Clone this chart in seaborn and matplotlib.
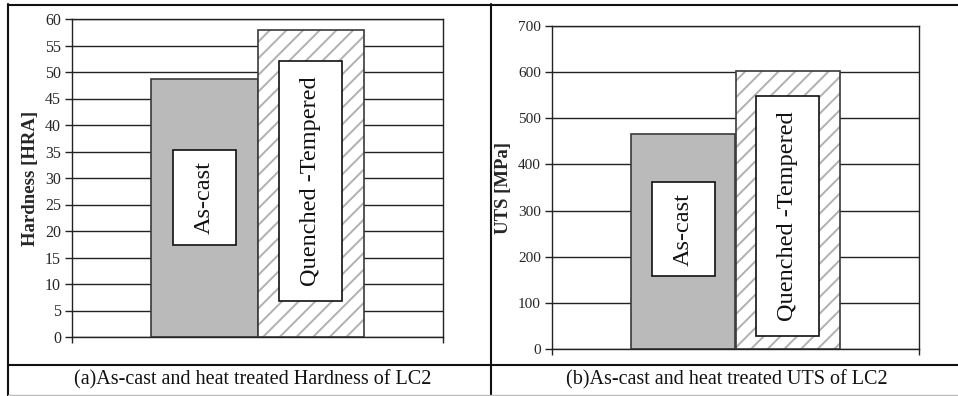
import matplotlib
matplotlib.use("Agg")
import matplotlib.pyplot as plt
from matplotlib.patches import Rectangle
from matplotlib.lines import Line2D
import pandas as pd
import seaborn as sns

# Data
conditions = ["As-cast", "Quenched -Tempered"]
hardness_hra = [48.7, 58.0]
uts_mpa = [466, 603]

hardness_ticks = list(range(0, 61, 5))
uts_ticks = list(range(0, 701, 100))

# Vertical extents of the rotated label boxes (in data units)
hardness_label_boxes = [(17.4, 35.3), (6.8, 52.1)]
uts_label_boxes = [(158, 362), (28, 548)]

sns.set_theme(style="white")
plt.rcParams["font.family"] = ["Liberation Serif", "DejaVu Serif"]
plt.rcParams["hatch.linewidth"] = 1.4

SOLID_GRAY = "#bababa"
HATCH_GRAY = "#b0b0b0"
EDGE = "#3a3a3a"

fig = plt.figure(figsize=(9.58, 3.96), dpi=100)
fig.patch.set_facecolor("white")

ax_a = fig.add_axes([72 / 958, 59 / 396, 371 / 958, 318 / 396])
ax_b = fig.add_axes([552 / 958, 47 / 396, 367 / 958, 323 / 396])


def draw_panel(ax, values, ylabel, ticks, boxes, tick_size):
    df = pd.DataFrame({"condition": conditions, "value": values})
    sns.barplot(data=df, x="condition", y="value", hue="condition",
                palette=[SOLID_GRAY, "white"], width=1.0, legend=False,
                edgecolor=EDGE, linewidth=1.2, ax=ax, zorder=2)

    # Hatched fill for the heat-treated bar, with a separate dark outline
    bars = list(ax.patches)
    hatched = bars[1]
    hatched.set_hatch("//")
    hatched.set_edgecolor(HATCH_GRAY)
    hatched.set_linewidth(0)
    ax.add_patch(Rectangle(hatched.get_xy(), hatched.get_width(),
                           hatched.get_height(), fill=False,
                           edgecolor=EDGE, linewidth=1.2, zorder=3))

    # Rotated condition labels in white boxes
    for bar, name, (lo, hi) in zip(bars, conditions, boxes):
        cx = bar.get_x() + bar.get_width() / 2
        bw = bar.get_width() * 0.6
        ax.add_patch(Rectangle((cx - bw / 2, lo), bw, hi - lo,
                               facecolor="white", edgecolor="#111111",
                               linewidth=1.2, zorder=4))
        ax.text(cx, (lo + hi) / 2, name, rotation=90, ha="center",
                va="center", fontsize=17.5, color="#111111", zorder=5)

    ax.set_xlim(-1.25, 2.25)
    ax.set_ylim(ticks[0], ticks[-1])
    ax.set_yticks(ticks)
    ax.set_yticklabels([str(t) for t in ticks], fontsize=tick_size)
    ax.set_xticks([-1.25, 2.25])
    ax.set_xticklabels([])
    ax.set_xlabel("")
    ax.set_ylabel(ylabel, fontsize=13.5, fontweight="bold", labelpad=4)
    ax.tick_params(axis="y", direction="out", length=5, width=1,
                   color="#222222", pad=3, left=True)
    ax.tick_params(axis="x", direction="out", length=4, width=1,
                   color="#222222", bottom=True)
    ax.grid(axis="y", color="#222222", linewidth=1.0)
    ax.grid(axis="x", visible=False)
    ax.set_axisbelow(True)
    for side in ["left", "bottom", "right", "top"]:
        ax.spines[side].set_visible(True)
        ax.spines[side].set_color("#222222")
        ax.spines[side].set_linewidth(1.0)
    ax.set_facecolor("white")


draw_panel(ax_a, hardness_hra, "Hardness [HRA]", hardness_ticks,
           hardness_label_boxes, 11.5)
draw_panel(ax_b, uts_mpa, "UTS [MPa]", uts_ticks, uts_label_boxes, 11)

# Table frame around the two panels and their captions
W, H = 958, 396


def frame_line(x0, y0, x1, y1, color="#111111", lw=1.5):
    fig.add_artist(Line2D([x0 / W, x1 / W], [1 - y0 / H, 1 - y1 / H],
                          transform=fig.transFigure, color=color,
                          linewidth=lw))


frame_line(8, 4.5, 958, 4.5)
frame_line(8, 4, 8, 396)
frame_line(490.5, 4, 490.5, 396)
frame_line(8, 365, 958, 365)
frame_line(8, 395, 958, 395, color="#bbbbbb", lw=1.0)

fig.text(253 / W, 1 - 380 / H,
         "(a)As-cast and heat treated Hardness of LC2",
         ha="center", va="center", fontsize=14.5, color="#111111")
fig.text(727 / W, 1 - 380 / H,
         "(b)As-cast and heat treated UTS of LC2",
         ha="center", va="center", fontsize=14.5, color="#111111")

fig.savefig("out.png", dpi=100, facecolor="white")
